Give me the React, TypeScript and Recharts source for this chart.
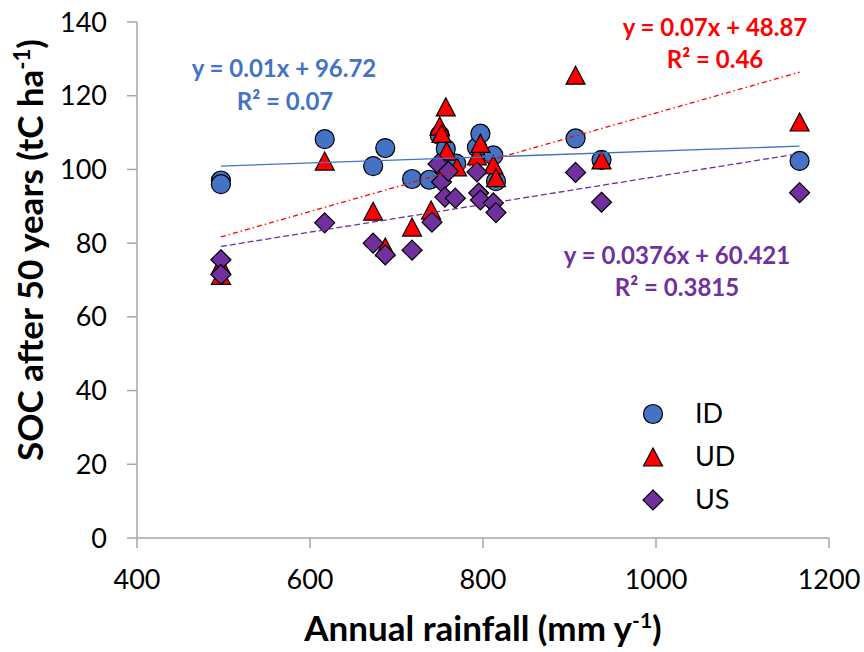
import React from 'react';
import { ScatterChart, Scatter, XAxis, YAxis } from 'recharts';

const xTicks = [400, 600, 800, 1000, 1200];
const yTicks = [0, 20, 40, 60, 80, 100, 120, 140];

const idRain = [497, 497, 617, 673, 687, 718, 738, 750, 757, 769, 793, 797, 812, 815, 907, 937, 1166];
const idSoc = [97, 96, 108.2, 100.9, 105.8, 97.4, 97.2, 109.3, 105.6, 101.6, 106, 109.7, 103.8, 96.8, 108.4, 102.6, 102.3];

const udRain = [497, 497, 617, 673, 687, 718, 740, 750, 752, 757, 758, 770, 793, 797, 812, 815, 907, 937, 1166];
const udSoc = [73.8, 71, 102, 88.4, 78.7, 84.1, 88.7, 111.5, 109.5, 116.7, 104.7, 100.4, 103.4, 106.8, 101, 97.5, 125.3, 102.3, 112.6];

const usRain = [497, 497, 617, 673, 687, 718, 741, 748, 752, 756, 760, 768, 793, 795, 797, 812, 815, 907, 937, 1166];
const usSoc = [75.5, 71.5, 85.5, 80, 76.8, 78.1, 85.7, 101.5, 96.6, 92.5, 99.5, 92.2, 99.3, 93.6, 91.7, 90.9, 88.3, 99.2, 91.1, 93.7];

const trendRain = [497, 1166];
const idTrend = [100.9, 106.3];
const udTrend = [81.7, 126.4];
const usTrend = [79.1, 104.3];

const BLUE = '#4472C4';
const RED = '#FF0000';
const PURPLE = '#7030A0';
const AXIS = '#A6A6A6';
const FONT = 'Lato, "Open Sans", sans-serif';

const zip = (xs: number[], ys: number[]) => xs.map((x, i) => ({ x, y: ys[i] }));

const idData = zip(idRain, idSoc);
const udData = zip(udRain, udSoc);
const usData = zip(usRain, usSoc);
const idLine = zip(trendRain, idTrend);
const udLine = zip(trendRain, udTrend);
const usLine = zip(trendRain, usTrend);

const Circle = (p: any) => <circle cx={p.cx} cy={p.cy} r={9.5} fill={BLUE} stroke="#000" strokeWidth={1.2} />;
const Tri = (p: any) => (
  <polygon
    points={`${p.cx},${p.cy - 10} ${p.cx + 9.5},${p.cy + 8} ${p.cx - 9.5},${p.cy + 8}`}
    fill={RED}
    stroke="#000"
    strokeWidth={1.2}
  />
);
const Dia = (p: any) => (
  <polygon
    points={`${p.cx},${p.cy - 10} ${p.cx + 10},${p.cy} ${p.cx},${p.cy + 10} ${p.cx - 10},${p.cy}`}
    fill={PURPLE}
    stroke="#000"
    strokeWidth={1.2}
  />
);
const NoShape = () => <g />;

export default function App() {
  return (
    <div style={{ position: 'absolute', left: 0, top: 0, width: 864, height: 652, background: '#fff' }}>
      <ScatterChart width={864} height={652} margin={{ top: 22, right: 35, bottom: 54, left: 77 }}>
        <XAxis
          type="number"
          dataKey="x"
          domain={[400, 1200]}
          ticks={xTicks}
          height={60}
          axisLine={{ stroke: AXIS, strokeWidth: 1.5 }}
          tickLine={{ stroke: AXIS, strokeWidth: 1.5 }}
          tickSize={10}
          tickMargin={22}
          tick={{ fill: '#000', fontSize: 27, fontFamily: FONT }}
        />
        <YAxis
          type="number"
          dataKey="y"
          domain={[0, 140]}
          ticks={yTicks}
          width={60}
          axisLine={{ stroke: AXIS, strokeWidth: 1.5 }}
          tickLine={{ stroke: AXIS, strokeWidth: 1.5 }}
          tickSize={10}
          tickMargin={20}
          tick={{ fill: '#000', fontSize: 27, fontFamily: FONT }}
        />
        <Scatter data={idData} shape={Circle} isAnimationActive={false} />
        <Scatter data={udData} shape={Tri} isAnimationActive={false} />
        <Scatter data={usData} shape={Dia} isAnimationActive={false} />
        <Scatter data={idLine} shape={NoShape} line={{ stroke: BLUE, strokeWidth: 1.3 }} isAnimationActive={false} />
        <Scatter data={udLine} shape={NoShape} line={{ stroke: RED, strokeWidth: 1.3, strokeDasharray: '5 3 1.5 3' }} isAnimationActive={false} />
        <Scatter data={usLine} shape={NoShape} line={{ stroke: PURPLE, strokeWidth: 1.3, strokeDasharray: '6 3' }} isAnimationActive={false} />
      </ScatterChart>
      <svg width={864} height={652} style={{ position: 'absolute', left: 0, top: 0, pointerEvents: 'none' }}>
        <g fontFamily={FONT} fontWeight="bold">
          <text transform="translate(43,250) rotate(-90)" textAnchor="middle" fontSize={35} fill="#000">
            SOC after 50 years (tC ha<tspan dy={-13} fontSize={22}>-1</tspan><tspan dy={13}>)</tspan>
          </text>
          <text x={483} y={641} textAnchor="middle" fontSize={35} fill="#000">
            Annual rainfall (mm y<tspan dy={-13} fontSize={21}>-1</tspan><tspan dy={13}>)</tspan>
          </text>
          <text x={284} y={77} textAnchor="middle" fontSize={24} fill={BLUE}>y = 0.01x + 96.72</text>
          <text x={285} y={110} textAnchor="middle" fontSize={24} fill={BLUE}>R² = 0.07</text>
          <text x={715} y={36} textAnchor="middle" fontSize={24} fill={RED}>y = 0.07x + 48.87</text>
          <text x={715} y={68} textAnchor="middle" fontSize={24} fill={RED}>R² = 0.46</text>
          <text x={677} y={264} textAnchor="middle" fontSize={24} fill={PURPLE}>y = 0.0376x + 60.421</text>
          <text x={677} y={296} textAnchor="middle" fontSize={24} fill={PURPLE}>R² = 0.3815</text>
        </g>
        <g fontFamily={FONT} fontSize={27} fill="#000">
          <circle cx={653} cy={414} r={9.5} fill={BLUE} stroke="#000" strokeWidth={1.2} />
          <polygon points="653,448 662.5,466 643.5,466" fill={RED} stroke="#000" strokeWidth={1.2} />
          <polygon points="653,490 663,500 653,510 643,500" fill={PURPLE} stroke="#000" strokeWidth={1.2} />
          <text x={695} y={423}>ID</text>
          <text x={695} y={466}>UD</text>
          <text x={695} y={509}>US</text>
        </g>
      </svg>
    </div>
  );
}
